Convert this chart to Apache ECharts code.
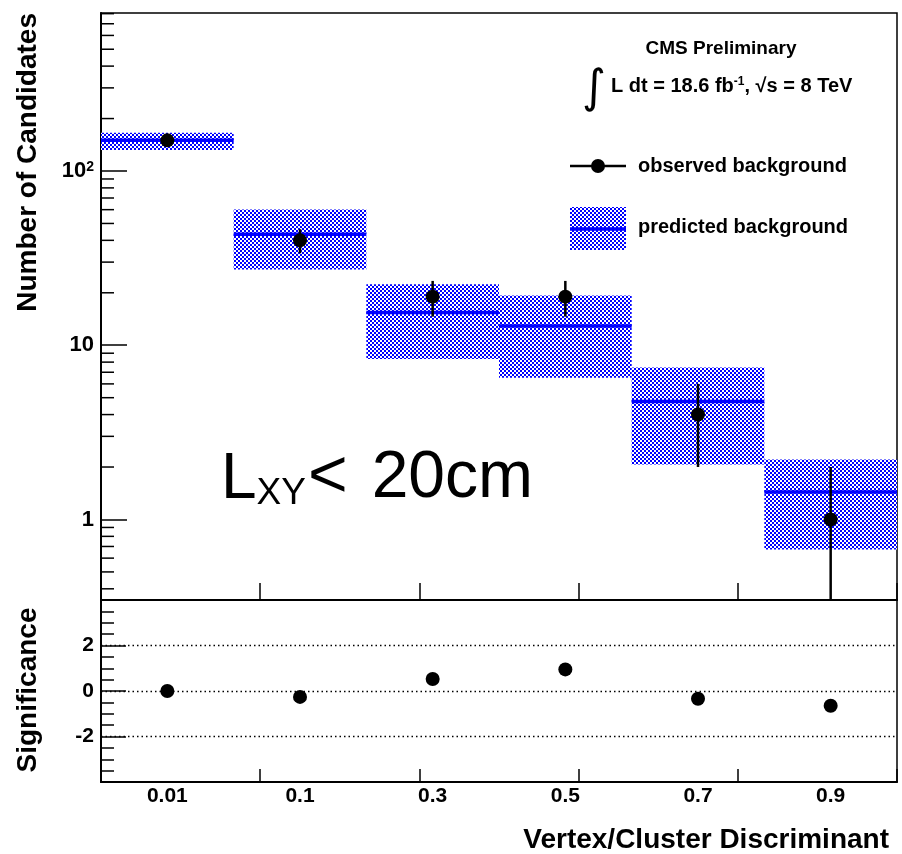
<!DOCTYPE html>
<html>
<head>
<meta charset="utf-8">
<script src="https://cdn.jsdelivr.net/npm/echarts@6/dist/echarts.min.js"></script>
<style>
  html, body { margin: 0; padding: 0; background: #fff; }
  #chart { width: 902px; height: 854px; }
</style>
</head>
<body>
<div id="chart"></div>
<script>
// Bin labels of the vertex/cluster discriminant
const categories = ['0.01', '0.1', '0.3', '0.5', '0.7', '0.9'];
// Predicted background: central value and uncertainty band
const predicted = [150, 43.3, 15.4, 12.9, 4.75, 1.44];
const predictedLow = [132, 27.2, 8.35, 6.5, 2.07, 0.673];
const predictedHigh = [166, 60.1, 22.4, 19.3, 7.45, 2.21];
// Observed background with error bar bounds
const observed = [150, 40, 19, 19, 4, 1];
const observedLow = [138, 33.7, 14.6, 14.6, 2, 0];
const observedHigh = [162, 46.3, 23.4, 23.4, 6, 2];
// Significance of observed vs predicted per bin
const significance = [0.0, -0.26, 0.53, 0.95, -0.34, -0.65];
// Reference levels drawn as dotted lines in the lower pad
const significanceLevels = [-2, 0, 2];

const Y_MIN = 0.345, Y_MAX = 807;
const FONT = "'Liberation Sans', Arial, Helvetica, sans-serif";
const BLUE = '#0000ff';

// Checkered hatch fill for the uncertainty band
function hatchPattern() {
  const c = document.createElement('canvas');
  c.width = 4; c.height = 4;
  const g = c.getContext('2d');
  g.fillStyle = BLUE; g.fillRect(0, 0, 4, 4);
  g.fillStyle = '#ffffff';
  g.fillRect(0, 0, 2, 2);
  g.fillRect(2, 2, 2, 2);
  return c;
}
const hatch = { image: hatchPattern(), repeat: 'repeat' };

// Log-axis minor tick values (2..9 per decade) inside the range
const minorTickValues = [];
for (let e = -1; e <= 2; e++) {
  for (let m = 2; m <= 9; m++) {
    const v = m * Math.pow(10, e);
    if (v > Y_MIN && v < Y_MAX) minorTickValues.push(v);
  }
}

const chart = echarts.init(document.getElementById('chart'), null, { renderer: 'canvas' });

const axisLine = { show: true, lineStyle: { color: '#000', width: 2 } };
const labelFont = { color: '#000', fontFamily: FONT, fontWeight: 'bold', fontSize: 21 };
const bigText = { fontFamily: FONT, fill: '#000', verticalAlign: 'bottom' };

const option = {
  backgroundColor: '#fff',
  animation: false,
  grid: [
    { left: 101, top: 13, width: 796, height: 587, show: true, borderColor: '#000', borderWidth: 1.5, backgroundColor: 'transparent' },
    { left: 101, top: 600, width: 796, height: 182, show: true, borderColor: '#000', borderWidth: 1.5, backgroundColor: 'transparent' }
  ],
  xAxis: [
    { gridIndex: 0, type: 'category', data: categories, boundaryGap: true, position: 'bottom',
      axisLine: { show: false }, axisTick: { show: false }, axisLabel: { show: false }, splitLine: { show: false } },
    { gridIndex: 0, type: 'value', min: 0, max: 1, interval: 0.2, position: 'bottom',
      axisLine: axisLine, axisTick: { show: true, inside: true, length: 17, lineStyle: { color: '#000', width: 1.5 } },
      axisLabel: { show: false }, splitLine: { show: false } },
    { gridIndex: 1, type: 'category', data: categories, boundaryGap: true, position: 'bottom',
      axisLine: { show: false }, axisTick: { show: false },
      axisLabel: Object.assign({ margin: 4 }, labelFont), splitLine: { show: false } },
    { gridIndex: 1, type: 'value', min: 0, max: 1, interval: 0.2, position: 'bottom',
      axisLine: axisLine, axisTick: { show: true, inside: true, length: 13, lineStyle: { color: '#000', width: 1.5 } },
      axisLabel: { show: false }, splitLine: { show: false } }
  ],
  yAxis: [
    { gridIndex: 0, type: 'log', logBase: 10, min: Y_MIN, max: Y_MAX,
      axisLine: axisLine,
      axisTick: { show: true, inside: true, length: 26, lineStyle: { color: '#000', width: 1.5 } },
      axisLabel: { margin: 7, showMinLabel: false, showMaxLabel: false,
        color: '#000', fontFamily: FONT, fontWeight: 'bold', fontSize: 22,
        formatter: v => { const r = Math.round(v); return r === 100 ? '{b|10}{s|2}' : '{b|' + r + '}'; },
        rich: {
          b: { color: '#000', fontFamily: FONT, fontWeight: 'bold', fontSize: 22, verticalAlign: 'bottom' },
          s: { color: '#000', fontFamily: FONT, fontWeight: 'bold', fontSize: 14, verticalAlign: 'top' }
        } },
      splitLine: { show: false } },
    { gridIndex: 1, type: 'value', min: -4, max: 4, interval: 2,
      axisLine: axisLine,
      axisTick: { show: true, inside: true, length: 25, lineStyle: { color: '#000', width: 1.5 } },
      minorTick: { show: true, splitNumber: 4, length: 13, lineStyle: { color: '#000', width: 1.5 } },
      axisLabel: Object.assign({ margin: 7, showMinLabel: false, showMaxLabel: false }, labelFont),
      splitLine: { show: false }, minorSplitLine: { show: false } }
  ],
  series: [
    // Minor ticks of the logarithmic axis
    { type: 'custom', xAxisIndex: 1, yAxisIndex: 0, silent: true, z: 5,
      data: minorTickValues.map(v => [0, v]),
      renderItem: (params, api) => {
        const p = api.coord([0, api.value(1)]);
        return { type: 'line', shape: { x1: p[0], y1: p[1], x2: p[0] + 13, y2: p[1] },
                 style: { stroke: '#000', lineWidth: 1.5 } };
      } },
    // Predicted background: hatched band plus central line
    { type: 'custom', xAxisIndex: 0, yAxisIndex: 0, silent: true, z: 2,
      data: categories.map((c, i) => [i, predicted[i], predictedLow[i], predictedHigh[i]]),
      renderItem: (params, api) => {
        const i = api.value(0);
        const c = api.coord([i, api.value(1)]);
        const w = api.coord([1, 10])[0] - api.coord([0, 10])[0];
        const lo = api.coord([i, api.value(2)])[1];
        const hi = api.coord([i, api.value(3)])[1];
        return { type: 'group', children: [
          { type: 'rect', shape: { x: c[0] - w / 2, y: hi, width: w, height: lo - hi }, style: { fill: hatch } },
          { type: 'line', shape: { x1: c[0] - w / 2, y1: c[1], x2: c[0] + w / 2, y2: c[1] },
            style: { stroke: BLUE, lineWidth: 3.5 } }
        ] };
      } },
    // Observed background error bars
    { type: 'custom', xAxisIndex: 0, yAxisIndex: 0, silent: true, z: 3,
      data: categories.map((c, i) => [i, observedLow[i], observedHigh[i]]),
      renderItem: (params, api) => {
        const i = api.value(0);
        const low = Math.max(api.value(1), Y_MIN);
        const high = Math.min(api.value(2), Y_MAX);
        const a = api.coord([i, low]);
        const b = api.coord([i, high]);
        return { type: 'line', shape: { x1: a[0], y1: a[1], x2: b[0], y2: b[1] },
                 style: { stroke: '#000', lineWidth: 2.5 } };
      } },
    // Observed background points
    { type: 'scatter', xAxisIndex: 0, yAxisIndex: 0, z: 4, silent: true,
      symbol: 'circle', symbolSize: 14, itemStyle: { color: '#000', opacity: 1 },
      data: categories.map((c, i) => [i, observed[i]]) },
    // Significance points with dotted reference levels
    { type: 'scatter', xAxisIndex: 2, yAxisIndex: 1, z: 4, silent: true,
      symbol: 'circle', symbolSize: 14, itemStyle: { color: '#000', opacity: 1 },
      data: categories.map((c, i) => [i, significance[i]]),
      markLine: { silent: true, symbol: 'none', label: { show: false }, animation: false,
        lineStyle: { color: '#000', width: 1.4, type: [1.5, 3], opacity: 1 },
        emphasis: { disabled: true },
        data: significanceLevels.map(v => ({ yAxis: v })) } }
  ],
  graphic: [
    // Axis titles
    { type: 'text', x: 28, y: 13, rotation: Math.PI / 2,
      style: { text: 'Number of Candidates', fontFamily: FONT, fontWeight: 'bold', fontSize: 28, fill: '#000',
               align: 'right', verticalAlign: 'middle' } },
    { type: 'text', x: 28, y: 690, rotation: Math.PI / 2,
      style: { text: 'Significance', fontFamily: FONT, fontWeight: 'bold', fontSize: 28, fill: '#000',
               align: 'center', verticalAlign: 'middle' } },
    { type: 'text', x: 889, y: 840,
      style: { text: 'Vertex/Cluster Discriminant', fontFamily: FONT, fontWeight: 'bold', fontSize: 28, fill: '#000',
               align: 'right', verticalAlign: 'middle' } },
    // Experiment and luminosity labels
    { type: 'text', x: 721, y: 49,
      style: { text: 'CMS Preliminary', fontFamily: FONT, fontWeight: 'bold', fontSize: 19, fill: '#000',
               align: 'center', verticalAlign: 'middle' } },
    { type: 'text', x: 594, y: 90,
      style: { text: '\u222B', fontFamily: "'DejaVu Sans', " + FONT, fontSize: 46, fill: '#000',
               align: 'center', verticalAlign: 'middle' } },
    { type: 'text', x: 611, y: 86,
      style: { text: '{a|L dt = 18.6 fb}{s|-1}{a|, \u221As = 8 TeV}', align: 'left', verticalAlign: 'middle',
               rich: { a: { fontFamily: FONT, fontWeight: 'bold', fontSize: 20, fill: '#000', verticalAlign: 'bottom' },
                       s: { fontFamily: FONT, fontWeight: 'bold', fontSize: 12, fill: '#000', verticalAlign: 'top', padding: [0, 0, 6, 0] } } } },
    // Legend
    { type: 'line', shape: { x1: 570, y1: 166, x2: 626, y2: 166 }, style: { stroke: '#000', lineWidth: 2.5 } },
    { type: 'circle', shape: { cx: 598, cy: 166, r: 7 }, style: { fill: '#000' } },
    { type: 'text', x: 638, y: 166,
      style: { text: 'observed background', fontFamily: FONT, fontWeight: 'bold', fontSize: 20, fill: '#000',
               align: 'left', verticalAlign: 'middle' } },
    { type: 'rect', shape: { x: 570, y: 207, width: 56, height: 43 }, style: { fill: hatch } },
    { type: 'line', shape: { x1: 570, y1: 229, x2: 626, y2: 229 }, style: { stroke: BLUE, lineWidth: 3.5 } },
    { type: 'text', x: 638, y: 227,
      style: { text: 'predicted background', fontFamily: FONT, fontWeight: 'bold', fontSize: 20, fill: '#000',
               align: 'left', verticalAlign: 'middle' } },
    // Selection annotation: L_XY < 20cm
    { type: 'text', x: 221, y: 478,
      style: { text: '{l|L}{sub|XY}{lt|<}{big|20cm}', align: 'left', verticalAlign: 'middle',
               rich: { l: Object.assign({ fontSize: 64 }, bigText),
                       sub: Object.assign({ fontSize: 37 }, bigText),
                       lt: Object.assign({ fontSize: 68, padding: [0, 0, 0, 2] }, bigText),
                       big: Object.assign({ fontSize: 66, padding: [0, 0, 0, 24] }, bigText) } } }
  ]
};

chart.setOption(option);
</script>
</body>
</html>
